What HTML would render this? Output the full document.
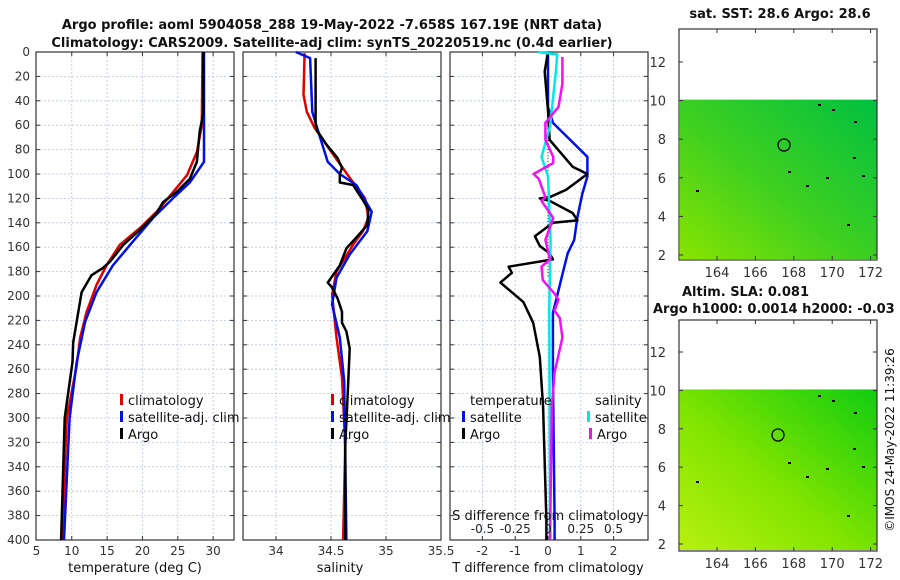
<!DOCTYPE html>
<html><head><meta charset="utf-8"><style>
html,body{margin:0;padding:0;background:#fff;}
svg{display:block;font-family:"DejaVu Sans","Liberation Sans",sans-serif;}
</style></head><body>
<svg id="c" width="900" height="580" viewBox="0 0 900 580"></svg>
<script>
// ---- data (depth in m) ----
const tempClimDepth=[0,60,82,101,115,131,144,158,175,191,213,234,257,300,400];
const tempClim=[28.5,28.4,27.7,26.3,24.3,22,19.7,16.8,14.9,13.5,12.1,11.2,10.7,9.3,8.6];
const tempSatDepth=[0,90,107,120,136,155,175,197,221,254,300,400];
const tempSat=[28.7,28.7,26.7,24.3,21.5,18.7,15.8,13.5,11.9,10.7,9.7,8.9];
const tempArgoDepth=[0,50,65,90,104,115,123,132,146,158,172,177,183,197,221,238,254,300,400];
const tempArgo=[28.6,28.6,28.1,27.7,26.7,24.8,22.9,22,19.6,17.3,15.4,14.4,12.8,11.4,10.7,10.2,10.1,9.0,8.5];
const salClimDepth=[1,35,49,62,84,103,120,136,147,158,180,199,234,267,322,400];
const salClim=[34.26,34.25,34.28,34.35,34.52,34.67,34.81,34.84,34.79,34.7,34.55,34.51,34.55,34.6,34.63,34.61];
const salSatDepth=[0,5,49,64,90,100,109,131,147,166,185,207,234,270,400];
const salSat=[34.18,34.31,34.33,34.38,34.47,34.58,34.73,34.87,34.83,34.67,34.55,34.51,34.58,34.62,34.64];
const salArgoDepth=[5,58,64,76,87,95,100,107,109,120,129,142,153,161,175,189,193,202,213,222,229,243,284,322,400];
const salArgo=[34.36,34.36,34.37,34.46,34.56,34.6,34.58,34.58,34.7,34.78,34.84,34.83,34.72,34.64,34.58,34.47,34.51,34.56,34.6,34.6,34.64,34.67,34.65,34.63,34.63];
const dTSatDepth=[0,45,58,86,102,116,135,154,165,181,214,263,384,400];
const dTSat=[0,0,0.15,1.2,1.2,1.05,0.9,0.8,0.6,0.45,0.15,0.15,0.2,0.2];
const dTArgoDepth=[0,16,48,72,94,100,113,119,120,122,132,138,140,151,159,165,170,176,181,189,205,222,250,291,384,400];
const dTArgo=[0,-0.1,0,0.05,0.75,1.2,0.55,0.05,-0.25,0.05,0.75,0.9,0.15,-0.4,-0.25,0.05,0.15,-1.2,-1.1,-1.45,-0.75,-0.45,-0.25,-0.15,-0.05,-0.05];
const dSSatDepth=[0,2,16,61,86,102,154,210,384,400];
const dSSat=[-0.08,0.07,0.06,0.015,-0.05,0,0.02,0.01,0.015,0.015];
const dSArgoDepth=[4,26,45,58,72,86,91,100,104,119,122,136,154,170,176,187,198,203,212,218,234,263,291,400];
const dSArgo=[0.11,0.11,0.08,-0.02,-0.02,0.04,0.04,-0.11,-0.07,-0.02,-0.05,0.04,-0.02,0.015,-0.05,-0.04,0.05,0.08,0.05,0.09,0.11,0.05,0.03,0.015];
const depthTicks=[0,20,40,60,80,100,120,140,160,180,200,220,240,260,280,300,320,340,360,380,400];
const tempTicks=[5,10,15,20,25,30];
const salTicks=[34,34.5,35,35.5];
const dTTicks=[-2,-1,0,1,2];
const dSTicks=[-0.5,-0.25,0,0.25,0.5];
const latTicks=[2,4,6,8,10,12];
const lonTicks=[164,166,168,170,172];

// ---- axes ----
const yD=d=>52+d*1.22;
const xT=t=>36.4+(t-5)*7.07;
const xS=s=>276+(s-34)*110;
const xdT=v=>548+v*32.8;
const xdS=v=>548+v*131;
const NS="http://www.w3.org/2000/svg";
const svg=document.getElementById('c');
function el(tag,at,txt,parent){const e=document.createElementNS(NS,tag);for(const k in at)e.setAttribute(k,at[k]);if(txt!==undefined)e.textContent=txt;(parent||svg).appendChild(e);return e;}

function panel(name,x0,x1,xt,ticks){
  const g=el('g',{});
  
  
  depthTicks.forEach(d=>el('line',{x1:x0,x2:x1,y1:yD(d),y2:yD(d),stroke:'#b8c4e8','stroke-width':0.8,'stroke-dasharray':'2,2'},undefined,g));
  ticks.forEach(t=>{const x=xt(t);
    if(x>x0+1&&x<x1-1){el('line',{x1:x,x2:x,y1:52,y2:540,stroke:'#b8c4e8','stroke-width':0.8,'stroke-dasharray':'2,2'},undefined,g);
    el('line',{x1:x,x2:x,y1:536,y2:540,stroke:'#333'},undefined,g);el('line',{x1:x,x2:x,y1:52,y2:56,stroke:'#333'},undefined,g);}
    const t2=el('text',{x:x,y:555,'text-anchor':'middle','font-size':12,fill:'#333'},String(t),g);});
  depthTicks.forEach(d=>{el('line',{x1:x0,x2:x0+4,y1:yD(d),y2:yD(d),stroke:'#333'},undefined,g);el('line',{x1:x1-4,x2:x1,y1:yD(d),y2:yD(d),stroke:'#333'},undefined,g);});
  el('rect',{x:x0,y:52,width:x1-x0,height:488,fill:'none',stroke:'#333','stroke-width':1.2},undefined,g);
  return g;
}
function line(g,name,dep,vals,xf,color,w){
  const p=dep.map((d,i)=>xf(vals[i]).toFixed(1)+','+yD(d).toFixed(1)).join(' ');
  const l=el('polyline',{points:p,fill:'none',stroke:color,'stroke-width':w||2.5,'stroke-linejoin':'round'},undefined,g);
  
  
}
const g1=panel('temperature-panel',36,234,xT,tempTicks);
line(g1,'temp-climatology-line',tempClimDepth,tempClim,xT,'#e00000');
line(g1,'temp-satellite-line',tempSatDepth,tempSat,xT,'#0010e8');
line(g1,'temp-argo-line',tempArgoDepth,tempArgo,xT,'#000');
const g2=panel('salinity-panel',243,441,xS,salTicks);
line(g2,'sal-climatology-line',salClimDepth,salClim,xS,'#e00000');
line(g2,'sal-satellite-line',salSatDepth,salSat,xS,'#0010e8');
line(g2,'sal-argo-line',salArgoDepth,salArgo,xS,'#000');
const g3=panel('difference-panel',450,648,xdT,dTTicks);
el('line',{x1:548,x2:548,y1:yD(55),y2:yD(185),stroke:'#333','stroke-width':1,'stroke-dasharray':'1,2'},undefined,g3);
line(g3,'dT-satellite-line',dTSatDepth,dTSat,xdT,'#0010e8');
line(g3,'dT-argo-line',dTArgoDepth,dTArgo,xdT,'#000');
line(g3,'dS-satellite-line',dSSatDepth,dSSat,xdS,'#00e8e8');
line(g3,'dS-argo-line',dSArgoDepth,dSArgo,xdS,'#f010f0');
dSTicks.forEach(v=>{const t=el('text',{x:xdS(v),y:533,'text-anchor':'middle','font-size':12,fill:'#222'},String(v));});
depthTicks.forEach(d=>{const t=el('text',{x:30,y:yD(d)+4,'text-anchor':'end','font-size':12,fill:'#333'},String(d));});

// ---- maps ----
function map(name,fy,fh,lat0y,dy,cA,cB,cC,circ){
  const g=el('g',{});
  
  
  const yL=l=>lat0y-(l-2)*dy;
  const xL=l=>717+(l-164)*19.2;
  const top=yL(10.05);
  const gr=el('linearGradient',{id:name+'-grad',x1:0,y1:1,x2:1,y2:0},undefined,svg);
  el('stop',{offset:0,'stop-color':cA},undefined,gr);el('stop',{offset:0.45,'stop-color':cB},undefined,gr);el('stop',{offset:1,'stop-color':cC},undefined,gr);
  el('rect',{x:680,y:top,width:197,height:fy+fh-top-1,fill:'url(#'+name+'-grad)'},undefined,g);
  el('rect',{x:679,y:fy,width:198,height:fh,fill:'none',stroke:'#333','stroke-width':1.2},undefined,g);
  latTicks.forEach(l=>{const y=yL(l);el('line',{x1:679,x2:683,y1:y,y2:y,stroke:'#333'},undefined,g);el('line',{x1:873,x2:877,y1:y,y2:y,stroke:'#333'},undefined,g);
    el('text',{x:666,y:y+5,'text-anchor':'end','font-size':13,fill:'#333'},String(l),g);});
  lonTicks.forEach(l=>{const x=xL(l);el('line',{x1:x,x2:x,y1:fy+fh-4,y2:fy+fh,stroke:'#333'},undefined,g);el('line',{x1:x,x2:x,y1:fy,y2:fy+4,stroke:'#333'},undefined,g);
    el('text',{x:x,y:fy+fh+17,'text-anchor':'middle','font-size':13,fill:'#333'},String(l),g);});
  const c=el('circle',{cx:circ[0],cy:circ[1],r:6,fill:'none',stroke:'#000','stroke-width':1.3},undefined,g);
  
  [[818,103],[832,108],[854,120],[788,170],[853,156],[862,174],[826,176],[696,189],[806,184],[847,223]].forEach(p=>el('rect',{x:p[0],y:p[1]-28+fy,width:3,height:2,fill:'#000'},undefined,g));
}
map('sst-map',29,231,255,19.3,'#88e400','#40d020','#00c040',[784,145]);
map('sla-map',320,231,544,19.2,'#b8f010','#80e400','#10cc10',[778,435]);

// ---- text ----
function txt(name,x,y,s,o){const t=el('text',Object.assign({x:x,y:y,'font-size':13,fill:'#111'},o||{}),s);return t;}
txt('title-line-1',332,29,'Argo profile: aoml 5904058_288 19-May-2022 -7.658S 167.19E (NRT data)',{'text-anchor':'middle','font-weight':'bold'});
txt('title-line-2',332,47,'Climatology: CARS2009. Satellite-adj clim: synTS_20220519.nc (0.4d earlier)',{'text-anchor':'middle','font-weight':'bold'});
txt('sst-map-title',780,18,'sat. SST: 28.6 Argo: 28.6',{'text-anchor':'middle','font-weight':'bold'});
txt('sla-map-title',682,296,'Altim. SLA: 0.081',{'font-weight':'bold'});
txt('sla-map-subtitle',653,313,'Argo h1000: 0.0014 h2000: -0.03',{'font-weight':'bold'});
txt('temp-axis-title',135,572,'temperature (deg C)',{'text-anchor':'middle'});
txt('salinity-axis-title',340,572,'salinity',{'text-anchor':'middle'});
txt('t-diff-axis-title',548,572,'T difference from climatology',{'text-anchor':'middle'});
txt('s-diff-axis-title',548,520,'S difference from climatology',{'text-anchor':'middle'});
txt('copyright-label',0,0,'©IMOS 24-May-2022 11:39:26',{'text-anchor':'middle','font-size':12,transform:'translate(894,440) rotate(-90)'});
function leg(name,x,y,color,s){const g=el('g',{});
  if(color)el('rect',{x:x-8,y:y-11,width:3,height:11,fill:color},undefined,g);el('text',{x:x,y:y,'font-size':13,fill:'#111'},s,g);}
leg('legend-climatology',128,405,'#e00000','climatology');
leg('legend-satellite-adj',128,422,'#0010e8','satellite-adj. clim');
leg('legend-argo',128,439,'#000','Argo');
leg('legend-climatology-2',339,405,'#e00000','climatology');
leg('legend-satellite-adj-2',339,422,'#0010e8','satellite-adj. clim');
leg('legend-argo-2',339,439,'#000','Argo');
leg('legend-temperature-header',470,405,null,'temperature');
leg('legend-t-satellite',470,422,'#0010e8','satellite');
leg('legend-t-argo',470,439,'#000','Argo');
leg('legend-salinity-header',595,405,null,'salinity');
leg('legend-s-satellite',595,422,'#00e8e8','satellite');
leg('legend-s-argo',597,439,'#f010f0','Argo');
</script>
</body></html>
